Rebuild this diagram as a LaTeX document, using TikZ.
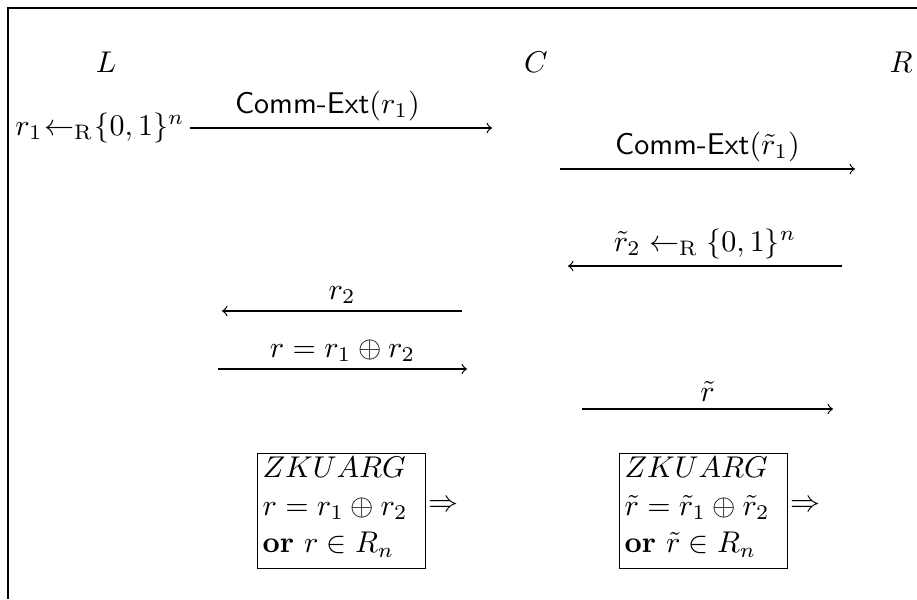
\documentclass[tikz,border=0pt]{standalone}
\usepackage{amsmath,amssymb}
\begin{document}
\begin{tikzpicture}[x=0.3333pt,y=-0.3333pt,
  frame/.style={line width=0.4pt},
  msg/.style={->, line width=0.4pt},
  lab/.style={above, inner sep=2.2pt},
  party/.style={anchor=base, inner sep=0pt},
  zkbox/.style={draw, line width=0.4pt, anchor=north west, minimum width=56pt, minimum height=38.3pt, inner sep=0pt},
  zktext/.style={anchor=north west, align=left, inner sep=0pt},
  impl/.style={inner sep=0pt}]
\useasboundingbox (0,0) rectangle (917,599);
% frame
\coordinate (fa) at (917,8);
\coordinate (fb) at (8,8);
\coordinate (fc) at (8,599);
\draw[frame] (fa) -- (fb) -- (fc);
% parties
\node[party] (L) at (106,72) {$L$};
\node[party] (C) at (536,72) {$C$};
\node[party] (R) at (901,72) {$R$};
% row 1
\node[anchor=base east, inner sep=0pt] (t1) at (185,135) {$r_1\mkern1mu{\leftarrow_{\mathrm{R}}}\mkern1mu\{0,1\}^n$};
\coordinate (a1s) at (190,128);
\coordinate (a1e) at (492,128);
\draw[msg] (a1s) -- (a1e) node[pos=0.455, lab] (l1) {\textsf{Comm-Ext}$(r_1)$};
% row 2
\coordinate (a2s) at (560,169);
\coordinate (a2e) at (855,169);
\draw[msg] (a2s) -- (a2e) node[midway, lab] (l2) {\textsf{Comm-Ext}$(\tilde r_1)$};
% row 3
\coordinate (a3s) at (842,266);
\coordinate (a3e) at (568,266);
\draw[msg] (a3s) -- (a3e) node[midway, lab] (l3) {$\tilde r_2 \leftarrow_{\mathrm{R}} \{0,1\}^n$};
% row 4
\coordinate (a4s) at (462,311);
\coordinate (a4e) at (222,311);
\draw[msg] (a4s) -- (a4e) node[midway, lab] (l4) {$r_2$};
% row 5
\coordinate (a5s) at (218,369);
\coordinate (a5e) at (467,369);
\draw[msg] (a5s) -- (a5e) node[midway, lab] (l5) {$r = r_1 \oplus r_2$};
% row 6
\coordinate (a6s) at (582,409);
\coordinate (a6e) at (833,409);
\draw[msg] (a6s) -- (a6e) node[midway, lab] (l6) {$\tilde r$};
% boxes
\node[zkbox] (b1) at (257,453) {};
\node[zktext] (z1) at (262,456.5) {$ZKUARG$\\[0.5pt] $r = r_1 \oplus r_2$\\[0.5pt] \textbf{or} $r \in R_n$};
\node[impl] (i1) at (443,506) {$\Rightarrow$};
\node[zkbox] (b2) at (619,453) {};
\node[zktext] (z2) at (624,456.5) {$ZKUARG$\\[0.5pt] $\tilde r = \tilde r_1 \oplus \tilde r_2$\\[0.5pt] \textbf{or} $\tilde r \in R_n$};
\node[impl] (i2) at (805,506) {$\Rightarrow$};
\end{tikzpicture}
\end{document}
